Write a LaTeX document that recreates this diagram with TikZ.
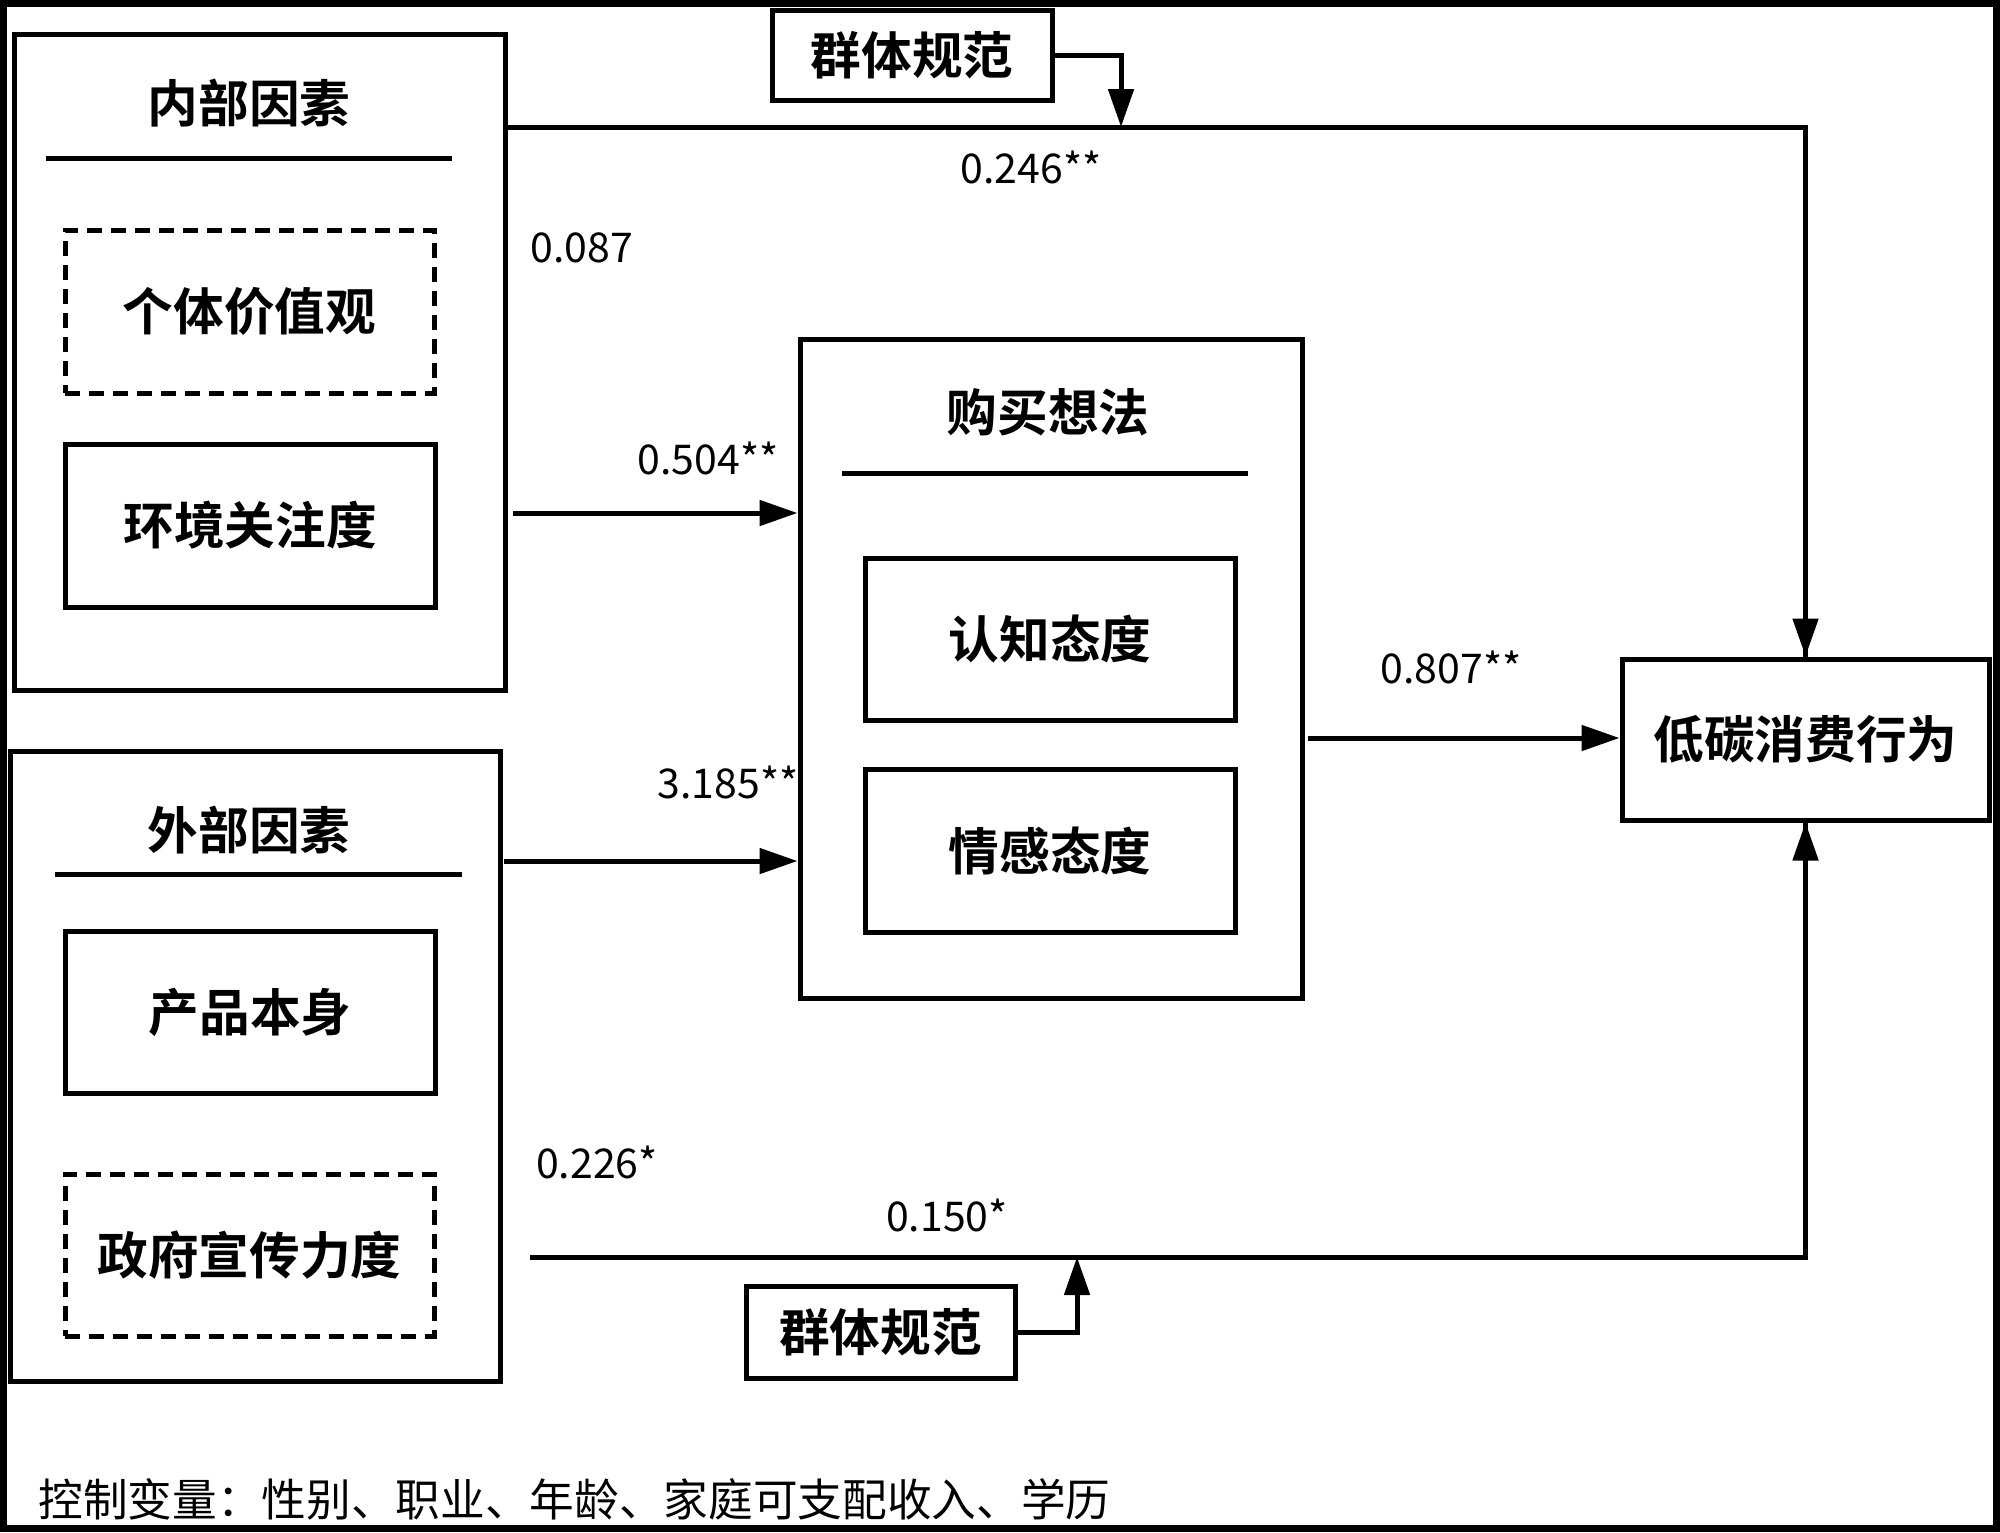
\documentclass[tikz,border=0pt]{standalone}
\usepackage{fontspec}
\setmainfont{Noto Sans CJK SC}[BoldFont={Noto Sans CJK SC Bold}]
\usetikzlibrary{arrows.meta}
\begin{document}
\begin{tikzpicture}[x=0.3pt,y=-0.3pt, line width=1.5pt,
  box/.style={draw, rectangle, inner sep=0pt, font=\fontsize{15.2}{18}\selectfont\bfseries},
  dbox/.style={box, dash pattern=on 4.5pt off 2.7pt},
  frame/.style={draw, rectangle, inner sep=0pt},
  ttl/.style={font=\fontsize{15.2}{18}\selectfont\bfseries, inner sep=0pt},
  num/.style={font=\fontsize{12.3}{14}\selectfont, inner sep=0pt},
  foot/.style={font=\fontsize{13.4}{15}\selectfont, inner sep=0pt, anchor=west},
  arr/.style={-{Triangle[length=11.4pt,width=7.5pt]}, line width=1.5pt},
  sepline/.style={line width=1.5pt}]
\useasboundingbox (0,0) rectangle (2000,1532);
% outer frame
\draw[line width=2.1pt] (3.5,3.5) rectangle (1996.5,1528.5);

% left groups
\node[frame, minimum width=147.3pt, minimum height=196.8pt] (inner) at (259.5,362) {};
\node[ttl] (innert) at (249,103) {内部因素};
\draw[sepline] (46,158) -- (452,158);
\node[dbox, minimum width=110.7pt, minimum height=48.9pt] (gtjz) at (249.5,311.5) {个体价值观};
\node[box, minimum width=111pt, minimum height=48.9pt] (hjgz) at (250,525.5) {环境关注度};

\node[frame, minimum width=147pt, minimum height=189pt] (outer) at (255,1066) {};
\node[ttl] (outert) at (249,830) {外部因素};
\draw[sepline] (55,874) -- (462,874);
\node[box, minimum width=111pt, minimum height=48.6pt] (cpbs) at (250,1012) {产品本身};
\node[dbox, minimum width=110.7pt, minimum height=48.6pt] (zfxc) at (249.5,1255) {政府宣传力度};

% middle group
\node[frame, minimum width=150.6pt, minimum height=197.7pt] (buy) at (1051,668.5) {};
\node[ttl] (buyt) at (1048,412) {购买想法};
\draw[sepline] (842,473) -- (1248,473);
\node[box, minimum width=111pt, minimum height=48.6pt] (rztd) at (1050,639) {认知态度};
\node[box, minimum width=111pt, minimum height=48.9pt] (qgtd) at (1050,850.5) {情感态度};

% outcome
\node[box, minimum width=110.1pt, minimum height=48.3pt] (low) at (1805.5,739.5) {低碳消费行为};

% moderators
\node[box, minimum width=84pt, minimum height=27pt] (gn1) at (912,55) {群体规范};
\node[box, minimum width=80.7pt, minimum height=27.6pt] (gn2) at (880.5,1332) {群体规范};

% connectors
\coordinate (topstart) at (505,127);
\coordinate (m1) at (1121,127);
\draw[sepline] (topstart) -| (low.north);
\draw[arr] (low.north |- topstart) -- (low.north);
\draw[arr] (gn1.east) -| (m1);

\coordinate (a1) at (513,513);
\draw[arr] (a1) -- (buy.west |- a1);
\coordinate (a2) at (504,861);
\draw[arr] (a2) -- (buy.west |- a2);
\coordinate (a3) at (1308,738);
\draw[arr] (a3) -- (low.west |- a3);

\coordinate (botstart) at (530,1257);
\coordinate (m2) at (1077,1257);
\draw[sepline] (botstart) -| (low.south);
\draw[arr] (low.south |- botstart) -- (low.south);
\draw[arr] (gn2.east) -| (m2);

% labels
\node[num] (l246) at (1031,167) {0.246**};
\node[num] (l087) at (582,248) {0.087};
\node[num] (l504) at (708,458) {0.504**};
\node[num] (l3185) at (728,782) {3.185**};
\node[num] (l807) at (1451,667) {0.807**};
\node[num] (l226) at (597,1162) {0.226*};
\node[num] (l150) at (947,1215) {0.150*};

\node[foot] (footer) at (36,1499) {控制变量：性别、职业、年龄、家庭可支配收入、学历};
\end{tikzpicture}
\end{document}
